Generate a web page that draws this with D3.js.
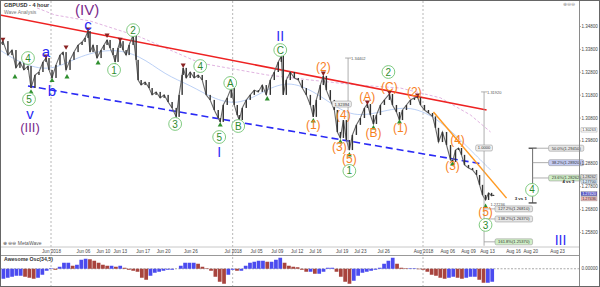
<!DOCTYPE html>
<html>
<head>
<meta charset="utf-8">
<script src="https://cdn.jsdelivr.net/npm/d3@7"></script>
<style>
body { margin: 0; background: #fff; }
svg { display: block; font-family: "Liberation Sans", Arial, sans-serif; }
</style>
</head>
<body>
<div id="graph"></div>
<script>
// GBPUSD 4 hour. x = trading-day index, 0 = Jun 1 2018
var barDays = [-5.90,-5.56,-4.98,-4.51,-4.05,-3.59,-3.13,-2.66,-2.31,-1.85,-1.39,-0.93,-0.58,-0.23,0.12,0.58,1.04,1.39,1.74,2.20,2.66,3.13,3.59,3.94,4.28,4.51,4.86,5.32,5.79,6.13,6.48,6.83,7.18,7.41,7.75,7.99,8.33,8.68,9.03,9.49,9.84,10.07,10.42,10.88,11.34,11.69,12.15,12.62,13.08,13.54,14.00,14.47,14.81,15.16,15.28,15.63,16.09,16.55,17.01,17.48,17.94,18.40,18.87,19.33,19.56,19.91,20.37,20.83,21.18,21.53,21.76,22.11,22.57,23.03,23.50,23.96,24.42,24.88,25.35,25.81,26.27,26.62,26.85,27.20,27.66,28.13,28.59,29.05,29.51,29.98,30.32,30.67,31.13,31.48,31.83,32.29,32.75,33.10,33.45,33.80,34.14,34.49,34.84,35.30,35.76,36.23,36.57,36.92,37.27,37.62,38.08,38.54,39.12,39.47,39.93,40.28,40.63,41.09,41.55,42.01,42.36,42.71,43.17,43.63,44.10,44.44,44.79,45.25,45.72,46.18,46.41,46.76,47.11,47.45,47.80,48.26,48.73,49.19,49.54,49.88,50.23,50.58,50.93,51.16]
var barCloses = [1.3397,1.3414,1.3353,1.3375,1.3297,1.3323,1.3288,1.3305,1.3209,1.3266,1.3279,1.3323,1.3340,1.3288,1.3253,1.3310,1.3353,1.3366,1.3288,1.3332,1.3366,1.3397,1.3410,1.3428,1.3458,1.3366,1.3397,1.3340,1.3375,1.3397,1.3419,1.3384,1.3353,1.3323,1.3384,1.3414,1.3375,1.3353,1.3397,1.3441,1.3332,1.3244,1.3222,1.3235,1.3209,1.3179,1.3192,1.3166,1.3179,1.3148,1.3122,1.3083,1.3179,1.3266,1.3297,1.3253,1.3279,1.3253,1.3266,1.3244,1.3179,1.3157,1.3113,1.3078,1.3061,1.3135,1.3166,1.3209,1.3135,1.3091,1.3069,1.3122,1.3157,1.3179,1.3200,1.3192,1.3222,1.3179,1.3244,1.3279,1.3323,1.3349,1.3179,1.3244,1.3279,1.3253,1.3244,1.3209,1.3179,1.3135,1.3083,1.3157,1.3222,1.3262,1.3200,1.3157,1.3113,1.3017,1.2991,1.3069,1.2982,1.2938,1.3004,1.3048,1.3078,1.3122,1.3139,1.3091,1.3052,1.3091,1.3135,1.3157,1.3183,1.3135,1.3104,1.3069,1.3113,1.3135,1.3157,1.3166,1.3170,1.3135,1.3113,1.3100,1.3085,1.3035,1.2973,1.3017,1.2960,1.2895,1.2886,1.2938,1.2947,1.2917,1.2873,1.2860,1.2851,1.2829,1.2786,1.2742,1.2720,1.2751,1.2738,1.2742]

// swing markers [day, price]
var swingHighs = [[-5.56,1.3414],[-0.58,1.3340],[1.74,1.3380],[4.28,1.3458],[6.48,1.3432],[7.99,1.3414],[9.49,1.3441],[15.28,1.3301],[26.62,1.3353],[31.48,1.3266],[36.57,1.3139],[39.12,1.3183],[42.36,1.3170]]
var swingLows = [[-4.17,1.3266],[-2.31,1.3200],[0.12,1.3250],[1.85,1.3266],[5.44,1.3327],[7.41,1.3318],[14.47,1.3078],[19.56,1.3056],[21.76,1.3065],[25.00,1.3170],[30.32,1.3074],[33.45,1.2982],[34.49,1.2925],[37.27,1.3043],[40.28,1.3069],[46.41,1.2886],[50.23,1.2700]]

// wave labels [text, day, price]
var greenWaves = [['4',-2.66,1.3340],['5',-2.54,1.3160],['1',7.29,1.3288],['2',9.49,1.3462],['3',14.35,1.3052],['4',17.25,1.3305],['5',19.44,1.2995],['A',20.72,1.3231],['B',21.64,1.3043],['C',26.50,1.3375],['1',34.49,1.2847],['2',39.00,1.3279],['3',50.23,1.2611],['4',55.60,1.2764]]
var orangeWaves = [['(1)',30.32,1.3048],['(2)',31.48,1.3301],['(3)',33.33,1.2952],['(4)',33.80,1.3091],['(5)',34.49,1.2899],['(A)',36.57,1.3170],['(B)',37.27,1.3013],['(C)',39.12,1.3214],['(1)',40.39,1.3035],['(2)',42.01,1.3192],['(3)',46.41,1.2869],['(4)',46.99,1.2982],['(5)',50.23,1.2668]]
var blueWaves = [['c',4.28,1.3487],['a',-0.58,1.3366],['b',0.12,1.3196],['v',-2.43,1.3098],['II',26.50,1.3436],['I',19.44,1.2930],['III',58.90,1.2545]]
var purpleWaves = [['(IV)',4.17,1.3550],['(III)',-2.43,1.3036]]

// trend lines [[day, price], [day, price]]
var redTrend = [[-5.90,1.3528],[50.35,1.3113]]
var blueTrend = [[-2.66,1.3218],[49.88,1.2877]]
var orangeTrend = [[44.21,1.3104],[52.66,1.2728]]
var pinkAverage = [[-1.62,1.3559],[0.46,1.3528],[4.51,1.3502],[10.30,1.3432],[17.25,1.3318],[25.00,1.3266],[29.98,1.3244],[35.42,1.3222],[40.39,1.3209],[45.02,1.3166],[48.50,1.3091],[50.81,1.3017]]
var blueAverage = [[-5.90,1.3375],[-3.59,1.3318],[-0.12,1.3279],[3.01,1.3345],[6.83,1.3384],[10.30,1.3353],[13.19,1.3266],[16.09,1.3222],[18.98,1.3157],[21.88,1.3135],[24.77,1.3200],[27.66,1.3244],[31.13,1.3179],[34.60,1.3078],[38.08,1.3104],[41.55,1.3135],[45.02,1.3069],[48.50,1.2938],[50.81,1.2851]]

// Fibonacci tools
var fibTarget = {day: 55.67, top: 1.2946, bottom: 1.2707}
var fibTargetLevels = [['50.0%(1.29450)',1.2946,'#e6e6e6'],['38.2%(1.28920)',1.2883,'#c3cbf3'],['23.6%(1.28262)',1.2816,'#cfeec6']]
var fibExt = {day: 50.06, top: 1.3192, bottom: 1.2520}
var fibExtLevels = [['127.2%(1.26810)',1.2681,'#e6e6e6'],['138.2%(1.26370)',1.2637,'#e6e6e6'],['161.8%(1.25370)',1.2537,'#cfeec6']]

var priceTicks = [1.348,1.338,1.328,1.318,1.308,1.298,1.288,1.278,1.268,1.258]
var dateTicks = [0,3.7,6.0,7.95,10.6,12.95,16.1,21,23.7,26.1,28.4,30.5,33.6,35.7,38.4,43,45.8,48.2,50.4,53.4,55.4,58.5]
var dateLabels = ['Jun 2018','Jun 06','Jun 10','Jun 13','Jun 17','Jun 20','Jun 26','Jul 2018','Jul 05','Jul 09','Jul 12','Jul 16','Jul 19','Jul 23','Jul 26','Aug 2018','Aug 06','Aug 09','Aug 13','Aug 16','Aug 20','Aug 23']
var monthStarts = [0,21,43]

// right-axis price tags [text, price, fill]
var axisTags = [['1.30263',1.3026,'#fff'],['1.28262',1.2821,'#e0e0e0'],['1.27700',1.2800,'#d2e6f7'],['1.27420',1.2747,'#5a5ac8'],['1.27436',1.2725,'#f1b9b9']]

// Awesome oscillator, one value per half day from day -6
var aoStart = -6
var aoValues = [-0.0040,-0.0040,-0.0036,-0.0032,-0.0028,-0.0028,-0.0032,-0.0036,-0.0040,-0.0036,-0.0024,-0.0008,0.0002,-0.0004,0.0008,0.0024,0.0024,0.0012,0.0016,0.0036,0.0040,0.0038,0.0032,0.0024,0.0016,0.0012,0.0012,0.0008,0.0012,0.0004,-0.0004,-0.0008,-0.0012,-0.0036,-0.0044,-0.0028,-0.0016,-0.0012,-0.0008,-0.0004,-0.0004,0.0000,0.0012,0.0024,0.0024,0.0024,0.0020,0.0008,0.0002,-0.0008,-0.0032,-0.0052,-0.0060,-0.0024,-0.0004,-0.0008,-0.0008,0.0012,0.0024,0.0028,0.0032,0.0032,0.0028,0.0028,0.0036,0.0044,0.0024,0.0012,0.0008,0.0006,-0.0004,-0.0012,-0.0012,-0.0020,-0.0020,-0.0012,0.0004,0.0004,-0.0012,-0.0032,-0.0052,-0.0060,-0.0048,-0.0028,-0.0016,-0.0012,-0.0008,-0.0004,0.0004,0.0020,0.0032,0.0044,0.0020,0.0004,0.0002,0.0002,0.0002,-0.0002,-0.0004,-0.0012,-0.0024,-0.0028,-0.0036,-0.0040,-0.0036,-0.0032,-0.0036,-0.0040,-0.0036,-0.0032,-0.0032,-0.0044,-0.0056,-0.0056,-0.0052]

var W = 600, H = 287
var plotR = 579, plotB = 247

var svg = d3.select('#graph').append('svg').attr('width', W).attr('height', H)

var x = d3.scaleLinear().domain([0, 43]).range([51, 423])
var y = d3.scaleLinear().domain([1.258, 1.348]).range([232, 26])
var yAo = d3.scaleLinear().domain([-0.0073, 0.0051]).range([287, 256])

svg.append('rect').attr('width', W).attr('height', H).attr('fill', '#fff')

svg.append('clipPath').attr('id', 'main').append('rect')
  .attr('x', 0).attr('y', 1).attr('width', plotR).attr('height', plotB - 1)

// month separators
svg.selectAll('.sep').data(monthStarts).join('line')
  .attr('x1', d => x(d)).attr('x2', d => x(d)).attr('y1', 1).attr('y2', H)
  .attr('stroke', '#b8b8b8').attr('stroke-dasharray', '2,2')

var g = svg.append('g').attr('clip-path', 'url(#main)')
var line = d3.line().x(d => x(d[0])).y(d => y(d[1]))

g.append('path').attr('d', line(pinkAverage))
  .attr('fill', 'none').attr('stroke', '#dcaadc').attr('stroke-width', 0.9).attr('stroke-dasharray', '3,2')
g.append('path').attr('d', line.curve(d3.curveBasis)(blueAverage)).attr('fill', 'none')
  .attr('stroke', '#aac4f2').attr('stroke-width', 0.8)
line.curve(d3.curveLinear)

g.append('path').attr('d', line(redTrend)).attr('stroke', '#ee2222').attr('stroke-width', 1.6)
g.append('path').attr('d', line(blueTrend)).attr('stroke', '#2a2af5').attr('stroke-width', 1.6)
  .attr('stroke-dasharray', '7,4')
g.append('path').attr('d', line(orangeTrend)).attr('stroke', '#ff9a22').attr('stroke-width', 1.5)

// price
var bars = barDays.map((d, i) => ({day: d, close: barCloses[i], open: i ? barCloses[i - 1] : barCloses[i]}))
g.append('path').attr('d', line(bars.map(d => [d.day, d.close])))
  .attr('fill', 'none').attr('stroke', '#6a6a6a').attr('stroke-width', 1.1)
g.selectAll('.body').data(bars).join('rect')
  .attr('x', d => x(d.day) - 0.7).attr('width', 1.4)
  .attr('y', d => y(Math.max(d.open, d.close)))
  .attr('height', d => Math.max(1, Math.abs(y(d.open) - y(d.close))))
  .attr('fill', '#333')

// swing markers
var tri = d3.symbol().type(d3.symbolTriangle).size(11)
g.selectAll('.hi').data(swingHighs).join('path').attr('d', tri)
  .attr('transform', d => `translate(${x(d[0])},${y(d[1]) - 2}) rotate(180)`).attr('fill', '#8a2222')
g.selectAll('.lo').data(swingLows).join('path').attr('d', tri)
  .attr('transform', d => `translate(${x(d[0])},${y(d[1]) + 2})`).attr('fill', '#2f8f2f')

// fib extension (3 vs 1)
var fe = svg.append('g').attr('stroke', '#9a9a9a').attr('stroke-width', 0.8)
fe.append('line').attr('x1', x(fibExt.day)).attr('x2', x(fibExt.day)).attr('y1', y(fibExt.top)).attr('y2', y(fibExt.bottom))
fe.append('line').attr('x1', x(fibExt.day) - 3).attr('x2', x(fibExt.day) + 3).attr('y1', y(fibExt.top)).attr('y2', y(fibExt.top))
fe.append('line').attr('x1', x(34.34)).attr('x2', x(34.34)).attr('y1', y(1.3340)).attr('y2', y(1.2938))
fe.append('line').attr('x1', x(34.34) - 3).attr('x2', x(34.34) + 3).attr('y1', y(1.3340)).attr('y2', y(1.3340))
fe.selectAll('.lv').data(fibExtLevels).join('line')
  .attr('x1', x(fibExt.day)).attr('x2', x(fibExt.day) + 11).attr('y1', d => y(d[1])).attr('y2', d => y(d[1]))

function tag(sel, text, cx, cy, fill, anchor) {
  var t = sel.append('g').attr('transform', `translate(${cx},${cy})`)
  var w = text.length * 2.3 + 3
  var x0 = anchor == 'middle' ? -w / 2 : 0
  t.append('rect').attr('x', x0).attr('y', -3).attr('width', w).attr('height', 6).attr('rx', 1.5)
    .attr('fill', fill).attr('stroke', '#8c8c8c').attr('stroke-width', 0.5)
  t.append('text').attr('x', x0 + w / 2).attr('y', 1.5).attr('text-anchor', 'middle')
    .attr('font-size', 4.1).attr('fill', '#333').text(text)
}
fibExtLevels.forEach(d => tag(svg, d[0], x(fibExt.day) + 11, y(d[1]), d[2]))
tag(svg, '1.0000', x(fibExt.day), y(1.2947), '#eee', 'middle')
tag(svg, '1.32394', x(33.62), y(1.3139), '#eee', 'middle')
svg.append('text').attr('x', x(34.34) + 3).attr('y', y(1.3340) + 2).attr('font-size', 4)
  .attr('fill', '#555').text('1.34402')
svg.append('text').attr('x', x(fibExt.day) + 3).attr('y', y(fibExt.top) + 2).attr('font-size', 4)
  .attr('fill', '#555').text('1.31920')
svg.append('text').attr('x', x(50.8)).attr('y', y(1.2700) + 1).attr('font-size', 4)
  .attr('fill', '#555').text('1.27236')
svg.append('text').attr('x', x(53.6)).attr('y', y(1.2720)).attr('font-size', 4.4)
  .attr('font-weight', 'bold').attr('fill', '#222').text('3 vs 1')

// fib retracement target for wave 4
var ft = svg.append('g').attr('stroke', '#444').attr('stroke-width', 0.8)
var fx = x(fibTarget.day)
ft.append('line').attr('x1', fx).attr('x2', fx).attr('y1', y(fibTarget.top)).attr('y2', y(fibTarget.bottom))
;[fibTarget.top, fibTarget.bottom].forEach(p => {
  ft.append('line').attr('x1', fx - 4).attr('x2', fx + 4).attr('y1', y(p)).attr('y2', y(p)).attr('stroke-width', 1.3)
})
ft.selectAll('.lv').data(fibTargetLevels).join('line').attr('stroke', '#999')
  .attr('x1', fx).attr('x2', fx + 16).attr('y1', d => y(d[1])).attr('y2', d => y(d[1]))
fibTargetLevels.forEach(d => tag(svg, d[0], fx + 16, y(d[1]), d[2]))
svg.append('text').attr('x', fx + 30).attr('y', y(1.2793)).attr('font-size', 4.2)
  .attr('font-weight', 'bold').attr('fill', '#222').text('4 vs 3')

// wave labels
var gl = svg.selectAll('.gw').data(greenWaves).join('g')
  .attr('transform', d => `translate(${x(d[1])},${y(d[2])})`)
gl.append('circle').attr('r', 6.4).attr('fill', '#fff').attr('stroke', '#72c472').attr('stroke-width', 0.9)
gl.append('text').text(d => d[0]).attr('text-anchor', 'middle').attr('dy', '0.36em')
  .attr('font-size', 10).attr('fill', '#2e8b2e')

svg.selectAll('.ow').data(orangeWaves).join('text').text(d => d[0])
  .attr('x', d => x(d[1])).attr('y', d => y(d[2])).attr('dy', '0.36em').attr('text-anchor', 'middle')
  .attr('font-size', 12).attr('fill', '#f7811f')
svg.selectAll('.bw').data(blueWaves).join('text').text(d => d[0])
  .attr('x', d => x(d[1])).attr('y', d => y(d[2])).attr('dy', '0.36em').attr('text-anchor', 'middle')
  .attr('font-size', d => d[0] == d[0].toLowerCase() ? 15 : 14).attr('fill', '#2b2bf5')
svg.selectAll('.pw').data(purpleWaves).join('text').text(d => d[0])
  .attr('x', d => x(d[1])).attr('y', d => y(d[2])).attr('dy', '0.36em').attr('text-anchor', 'middle')
  .attr('font-size', d => d[0] == '(IV)' ? 15 : 13).attr('fill', '#7b2c8c')

// captions
svg.append('text').attr('x', 4).attr('y', 7).attr('font-size', 5.5).attr('font-weight', 'bold')
  .attr('fill', '#333').text('GBPUSD - 4 hour')
svg.append('text').attr('x', 4).attr('y', 14).attr('font-size', 5).attr('fill', '#777').text('Wave Analysis')
svg.append('text').attr('x', 3).attr('y', 245).attr('font-size', 5).attr('fill', '#555').text('⊕ ⊖⊖ MetaWave')
svg.append('text').attr('x', 563).attr('y', 6).attr('font-size', 5).attr('fill', '#999').text('⊕⊖⊖')

// axes
svg.append('line').attr('x1', 0).attr('x2', plotR).attr('y1', plotB).attr('y2', plotB).attr('stroke', '#c8c8c8')
svg.append('line').attr('x1', 0).attr('x2', plotR).attr('y1', 255.5).attr('y2', 255.5).attr('stroke', '#999')

var yAxis = svg.append('g').attr('transform', `translate(${plotR},0)`)
  .call(d3.axisRight(y).tickValues(priceTicks).tickFormat(d3.format('.5f')).tickSize(1.5))
yAxis.select('.domain').remove()
yAxis.selectAll('text').attr('font-size', 4.5).attr('fill', '#444').attr('x', 2.5)
yAxis.selectAll('line').attr('stroke', '#666')
svg.append('line').attr('x1', plotR + 0.5).attr('x2', plotR + 0.5).attr('y1', 0).attr('y2', H).attr('stroke', '#8a8a8a')

var xAxis = svg.append('g').attr('transform', `translate(0,${plotB})`)
  .call(d3.axisBottom(x).tickValues(dateTicks).tickFormat((d, i) => dateLabels[i]).tickSize(0))
xAxis.select('.domain').remove()
xAxis.selectAll('text').attr('font-size', 4.6).attr('fill', '#444').attr('y', 3)

axisTags.forEach(d => {
  var t = svg.append('g').attr('transform', `translate(${plotR + 2},${y(d[1])})`)
  t.append('rect').attr('y', -2.1).attr('width', 16).attr('height', 4.2).attr('fill', d[2]).attr('stroke', '#888').attr('stroke-width', 0.4)
  t.append('text').attr('x', 1.2).attr('y', 1.4).attr('font-size', 3.8).attr('fill', d[2] == '#5a5ac8' ? '#fff' : '#333').text(d[0])
})

// awesome oscillator
svg.append('text').attr('x', 4).attr('y', 261).attr('font-size', 5.2).attr('font-weight', 'bold')
  .attr('fill', '#333').text('Awesome Osc(34,5)')
svg.append('line').attr('x1', 0).attr('x2', plotR).attr('y1', yAo(0)).attr('y2', yAo(0))
  .attr('stroke', '#aaa').attr('stroke-dasharray', '2,1.5')
var step = x(0.5) - x(0)
svg.selectAll('.ao').data(aoValues).join('rect')
  .attr('x', (d, i) => x(aoStart + i * 0.5) - step / 2 + 0.3).attr('width', step - 0.6)
  .attr('y', d => Math.min(yAo(d), yAo(0))).attr('height', d => Math.abs(yAo(d) - yAo(0)))
  .attr('fill', (d, i) => i && d < aoValues[i - 1] ? '#a8443e' : '#4b4bef')
svg.append('text').attr('x', plotR + 2.5).attr('y', yAo(0) + 1.6).attr('font-size', 4.5).attr('fill', '#444').text('0.00000')

svg.append('rect').attr('x', 0.5).attr('y', 0.5).attr('width', W - 1).attr('height', H - 1)
  .attr('fill', 'none').attr('stroke', '#666')
</script>
</body>
</html>
